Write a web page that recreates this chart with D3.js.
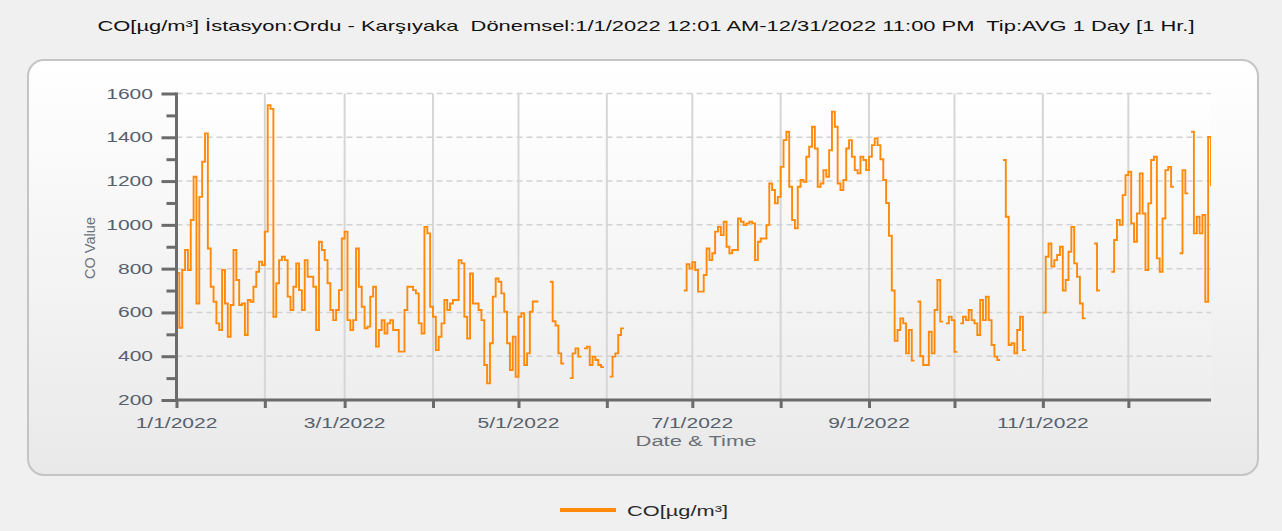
<!DOCTYPE html>
<html>
<head>
<meta charset="utf-8">
<script src="https://cdn.jsdelivr.net/npm/d3@7/dist/d3.min.js"></script>
<style>
body { margin: 0; background: #f0f0f0; }
svg { display: block; font-family: "Liberation Sans", Arial, sans-serif; }
</style>
</head>
<body>
<svg id="chart" width="1282" height="531"></svg>
<script>
var titleText = "CO[µg/m³] İstasyon:Ordu - Karşıyaka  Dönemsel:1/1/2022 12:01 AM-12/31/2022 11:00 PM  Tip:AVG 1 Day [1 Hr.]";
var seriesName = "CO[µg/m³]";
var yLabel = "CO Value";
var xLabel = "Date & Time";
var yTicks = [200, 400, 600, 800, 1000, 1200, 1400, 1600];
var xTickLabels = ["1/1/2022", "3/1/2022", "5/1/2022", "7/1/2022", "9/1/2022", "11/1/2022"];

// daily averages, one array per month (null = no data)
var jan = [780, 530, 794, 885, 794, 1022, 1220, 641, 1128, 1288, 1418, 892, 717, 649, 550, 520, 794, 641, 489, 634, 885, 748, 634, 641, 497, 657, 649, 717, 786, 832, 816];
var feb = [969, 1547, 1530, 580, 733, 839, 854, 839, 672, 611, 717, 824, 702, 611, 839, 763, 763, 717, 520, 923, 885, 839, 733, 611, 565, 611, 702, 938];
var mar = [969, 565, 520, 565, 892, 717, 626, 527, 535, 672, 717, 444, 520, 565, 504, 550, 565, 520, 520, 421, 421, 611, 717, 717, 702, 687, 550, 504, 991, 961, 626];
var apr = [580, 428, 489, 550, 657, 611, 641, 657, 657, 839, 824, 580, 481, 778, 641, 641, 611, 565, 360, 276, 459, 672, 755, 740, 687, 603, 459, 337, 489, 306];
var may = [580, 596, 360, 413, 603, 650, 650, null, null, null, null, 740, 560, 540, 413, 367, null, null, 300, 413, 436, 398, null, 436, 444, 360, 398, 383, 360, 350, null];
var jun = [null, 307, 398, 413, 497, 527, null, null, null, null, null, null, null, null, null, null, null, null, null, null, null, null, null, null, null, null, null, 700, 820, 800];
var jul = [830, 794, 695, 695, 771, 892, 839, 870, 969, 991, 953, 1014, 900, 870, 885, 885, 1029, 1014, 999, 1007, 1014, 1007, 839, 923, 938, 938, 999, 1189, 1159, 1098, 1128];
var aug = [1265, 1387, 1425, 1174, 1022, 984, 1174, 1205, 1197, 1311, 1357, 1448, 1349, 1174, 1189, 1250, 1220, 1341, 1517, 1448, 1189, 1159, 1205, 1349, 1387, 1311, 1250, 1235, 1311, 1296, 1250];
var sep = [1311, 1364, 1395, 1364, 1300, 1205, 1100, 950, 700, 470, 520, 573, 550, 413, 520, 380, null, 650, 400, 360, 360, 512, 413, 611, 748, 558, null, 550, 580, 565];
var oct = [420, null, 550, 580, 565, 611, 565, 550, 497, 657, 565, 672, 565, 451, 398, 383, null, 1296, 1037, 451, 459, 413, 520, 580, 428, null, null, null, null, null, null];
var nov = [600, 854, 915, 809, 839, 862, 900, 700, 748, 877, 991, 824, 763, 641, 573, null, null, null, 915, 700, null, null, null, null, 786, 931, 1022, 1000, 1136, 1227];
var dec = [1243, 1007, 923, 1052, 1235, 1052, 794, 1098, 1296, 1311, 847, 786, 1029, 1250, 1265, 1174, null, null, 870, 1250, 1144, null, 1425, 961, 1037, 961, 1045, 649, 1402, 1182, null];

var months = [jan, feb, mar, apr, may, jun, jul, aug, sep, oct, nov, dec];

var svg = d3.select("#chart");
var plotLeft = 176.5, plotRight = 1211, plotTop = 93.5, plotBottom = 400;
var DAY = 864e5;

var x = d3.scaleTime()
    .domain([new Date(2022, 0, 1), new Date(2022, 11, 30)])
    .range([plotLeft, plotRight]);
var y = d3.scaleLinear().domain([200, 1600]).range([plotBottom, plotTop]);

var defs = svg.append("defs");
var g1 = defs.append("linearGradient").attr("id", "panelGrad")
    .attr("x1", 0).attr("y1", 0).attr("x2", 0).attr("y2", 1);
g1.append("stop").attr("offset", "0%").attr("stop-color", "#ffffff");
g1.append("stop").attr("offset", "100%").attr("stop-color", "#e9e9e9");
var g2 = defs.append("linearGradient").attr("id", "plotGrad")
    .attr("x1", 0).attr("y1", 0).attr("x2", 0).attr("y2", 1);
g2.append("stop").attr("offset", "0%").attr("stop-color", "#ffffff");
g2.append("stop").attr("offset", "100%").attr("stop-color", "#eeeeee");
defs.append("clipPath").attr("id", "plotClip").append("rect")
    .attr("x", plotLeft).attr("y", plotTop - 5)
    .attr("width", plotRight - plotLeft).attr("height", plotBottom - plotTop + 5);

// title
svg.append("text")
    .attr("x", 646).attr("y", 31)
    .attr("text-anchor", "middle")
    .attr("font-size", 15)
    .attr("fill", "#111")
    .style("white-space", "pre")
    .attr("textLength", 1097)
    .attr("lengthAdjust", "spacingAndGlyphs")
    .text(titleText);

// panel
svg.append("rect")
    .attr("x", 28).attr("y", 60).attr("width", 1230).attr("height", 415)
    .attr("rx", 16).attr("ry", 16)
    .attr("fill", "url(#panelGrad)")
    .attr("stroke", "#c4c4c4").attr("stroke-width", 2);

svg.append("rect")
    .attr("x", plotLeft).attr("y", plotTop)
    .attr("width", plotRight - plotLeft).attr("height", plotBottom - plotTop)
    .attr("fill", "url(#plotGrad)");

// grid
var monthStarts = d3.timeMonth.range(new Date(2022, 1, 1), new Date(2022, 11, 2));
svg.append("g").selectAll("line").data(monthStarts).enter().append("line")
    .attr("x1", function(d) { return x(d); })
    .attr("x2", function(d) { return x(d); })
    .attr("y1", plotTop).attr("y2", plotBottom)
    .attr("stroke", "#d6d6d6").attr("stroke-width", 2);

svg.append("g").selectAll("line").data(yTicks.slice(1)).enter().append("line")
    .attr("x1", plotLeft).attr("x2", plotRight)
    .attr("y1", function(d) { return y(d); })
    .attr("y2", function(d) { return y(d); })
    .attr("stroke", "#d2d2d2").attr("stroke-width", 1.5)
    .attr("stroke-dasharray", "6,4");

// series as daily steps
var points = [];
months.forEach(function(vals, m) {
    vals.forEach(function(v, i) {
        var t = new Date(2022, m, i + 1);
        if (v == null) { points.push({gap: true}); return; }
        points.push({t: t, v: v});
        points.push({t: new Date(+t + DAY), v: v});
    });
});

var line = d3.line()
    .defined(function(p) { return !p.gap; })
    .x(function(p) { return x(p.t); })
    .y(function(p) { return y(p.v); });

svg.append("path")
    .datum(points)
    .attr("clip-path", "url(#plotClip)")
    .attr("fill", "none")
    .attr("stroke", "#ff8a0a")
    .attr("stroke-width", 1.9)
    .attr("d", line);

// axes
var axisColor = "#6b6b6b";
var yAxis = d3.axisLeft(y).tickValues(d3.range(200, 1601, 100))
    .tickSize(10).tickFormat("");
var ya = svg.append("g").attr("transform", "translate(" + plotLeft + ",0)").call(yAxis);
ya.selectAll("line").attr("stroke", axisColor).attr("stroke-width", 3)
    .attr("x2", function(d) { return d % 200 === 0 ? -15 : -10; });
ya.select(".domain").remove();

var xAxis = d3.axisBottom(x).ticks(d3.timeMonth.every(1)).tickSize(8).tickFormat("");
var xa = svg.append("g").attr("transform", "translate(0," + plotBottom + ")").call(xAxis);
xa.selectAll("line").attr("stroke", axisColor).attr("stroke-width", 3);
xa.select(".domain").remove();

svg.append("line").attr("x1", plotLeft).attr("x2", plotLeft)
    .attr("y1", plotTop - 1).attr("y2", plotBottom + 1.5)
    .attr("stroke", axisColor).attr("stroke-width", 3);
svg.append("line").attr("x1", plotLeft - 1.5).attr("x2", plotRight)
    .attr("y1", plotBottom).attr("y2", plotBottom)
    .attr("stroke", axisColor).attr("stroke-width", 3);

// tick labels
var labelColor = "#56606c";
svg.append("g").selectAll("text").data(yTicks).enter().append("text")
    .attr("class", "stretch")
    .attr("x", 153).attr("y", function(d) { return y(d) + 5; })
    .attr("text-anchor", "end")
    .attr("font-size", 14).attr("fill", labelColor)
    .text(function(d) { return d; });

var labelDates = xTickLabels.map(function(s) {
    var p = s.split("/");
    return new Date(+p[2], +p[0] - 1, +p[1]);
});
svg.append("g").selectAll("text").data(xTickLabels).enter().append("text")
    .attr("class", "stretch")
    .attr("x", function(d, i) { return x(labelDates[i]); })
    .attr("y", 428)
    .attr("text-anchor", "middle")
    .attr("font-size", 14).attr("fill", labelColor)
    .text(function(d) { return d; });

svg.append("text")
    .attr("x", 696).attr("y", 446)
    .attr("text-anchor", "middle")
    .attr("font-size", 14).attr("fill", "#6a7078")
    .attr("textLength", 121).attr("lengthAdjust", "spacingAndGlyphs")
    .text(xLabel);

svg.append("text")
    .attr("transform", "translate(95,248) rotate(-90)")
    .attr("text-anchor", "middle")
    .attr("font-size", 15).attr("fill", "#6a7078")
    .attr("textLength", 62).attr("lengthAdjust", "spacingAndGlyphs")
    .text(yLabel);

// legend
svg.append("line").attr("x1", 560).attr("x2", 616).attr("y1", 510).attr("y2", 510)
    .attr("stroke", "#ff8a0a").attr("stroke-width", 4);
svg.append("text")
    .attr("x", 627).attr("y", 516)
    .attr("font-size", 15).attr("fill", "#2a2a2a")
    .attr("textLength", 101).attr("lengthAdjust", "spacingAndGlyphs")
    .text(seriesName);

// the source image is wider than its fonts, stretch labels to match
svg.selectAll("text.stretch").each(function() {
    var w = this.getComputedTextLength();
    d3.select(this).attr("textLength", w * 1.5).attr("lengthAdjust", "spacingAndGlyphs");
});
</script>
</body>
</html>
